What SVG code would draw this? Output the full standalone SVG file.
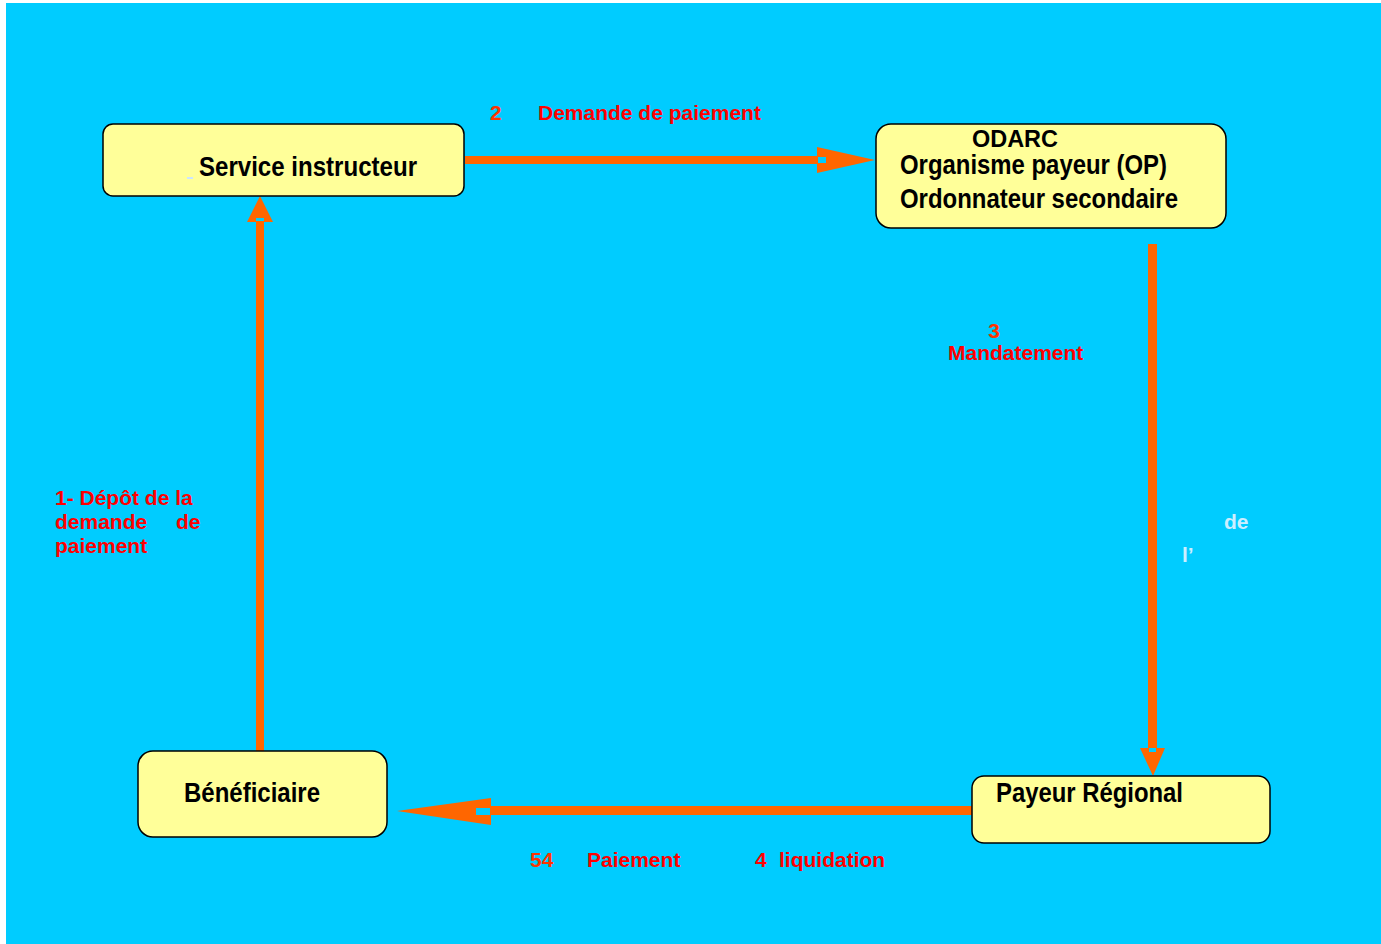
<svg xmlns="http://www.w3.org/2000/svg" width="1381" height="944" viewBox="0 0 1381 944">
<style>
.box{fill:#FFFF99;stroke:#000;stroke-width:1.5}
.nl{font-family:"Liberation Sans Narrow","Liberation Sans",Arial,sans-serif;font-weight:bold;font-size:28px;fill:#000}
.sm{font-size:24px}
.lb{font-family:"Liberation Sans",Arial,sans-serif;font-weight:bold;font-size:21px;fill:#FF0000}
.num{fill:#FF3300}
.wh{font-family:"Liberation Sans",Arial,sans-serif;font-weight:bold;font-size:21px;fill:#CCEEFF}
.ar{fill:#FF6600}
.hole{fill:#00CCFF}
</style>
<rect x="0" y="0" width="1381" height="944" fill="#FFFFFF"/>
<rect x="6" y="3" width="1375" height="941" fill="#00CCFF"/>

<g id="connectors">
  <rect class="ar" x="256" y="221" width="8" height="530"/>
  <polygon class="ar" points="260,196 247,222 273,222"/>
  <rect class="hole" x="256" y="218" width="8" height="3"/>

  <rect class="ar" x="465" y="156" width="354" height="8"/>
  <polygon class="ar" points="875,160 817,147 817,173"/>
  <rect class="hole" x="818" y="157" width="8" height="6"/>

  <rect class="ar" x="1148" y="244" width="9" height="505"/>
  <polygon class="ar" points="1153,776 1140,748 1165,748"/>
  <rect class="hole" x="1149" y="748" width="7" height="4"/>

  <rect class="ar" x="490" y="806" width="482" height="9"/>
  <polygon class="ar" points="397,811 491,798 491,825"/>
  <rect class="hole" x="476" y="808" width="14" height="7"/>
</g>

<g id="node-service">
  <rect class="box" x="103" y="124" width="361" height="72" rx="10"/>
  <rect x="187" y="177" width="6" height="2" fill="#CCE6FF"/>
  <text class="nl" x="199" y="176" textLength="218" lengthAdjust="spacingAndGlyphs">Service instructeur</text>
</g>

<g id="node-odarc">
  <rect class="box" x="876" y="124" width="350" height="104" rx="15"/>
  <text class="nl sm" x="972" y="147" textLength="86" lengthAdjust="spacingAndGlyphs">ODARC</text>
  <text class="nl" x="900" y="174" textLength="267" lengthAdjust="spacingAndGlyphs">Organisme payeur (OP)</text>
  <text class="nl" x="900" y="208" textLength="278" lengthAdjust="spacingAndGlyphs">Ordonnateur secondaire</text>
</g>

<g id="node-payeur">
  <rect class="box" x="972" y="776" width="298" height="67" rx="12"/>
  <text class="nl" x="996" y="802" textLength="187" lengthAdjust="spacingAndGlyphs">Payeur Régional</text>
</g>

<g id="node-beneficiaire">
  <rect class="box" x="138" y="751" width="249" height="86" rx="15"/>
  <text class="nl" x="184" y="802" textLength="136" lengthAdjust="spacingAndGlyphs">Bénéficiaire</text>
</g>

<g id="labels">
  <text class="lb num" x="490" y="120">2</text>
  <text class="lb" x="538" y="120">Demande de paiement</text>

  <text class="lb num" x="994" y="338" text-anchor="middle">3</text>
  <text class="lb" x="948" y="360">Mandatement</text>

  <text class="wh" x="1224" y="529">de</text>
  <text class="wh" x="1182" y="562">l’</text>

  <text class="lb" x="55" y="505">1- Dépôt de la</text>
  <text class="lb" x="55" y="529">demande</text>
  <text class="lb" x="176" y="529">de</text>
  <text class="lb" x="55" y="553">paiement</text>

  <text class="lb num" x="530" y="867">54</text>
  <text class="lb" x="587" y="867">Paiement</text>
  <text class="lb" x="755" y="867">4</text>
  <text class="lb" x="779" y="867">liquidation</text>
</g>
</svg>
